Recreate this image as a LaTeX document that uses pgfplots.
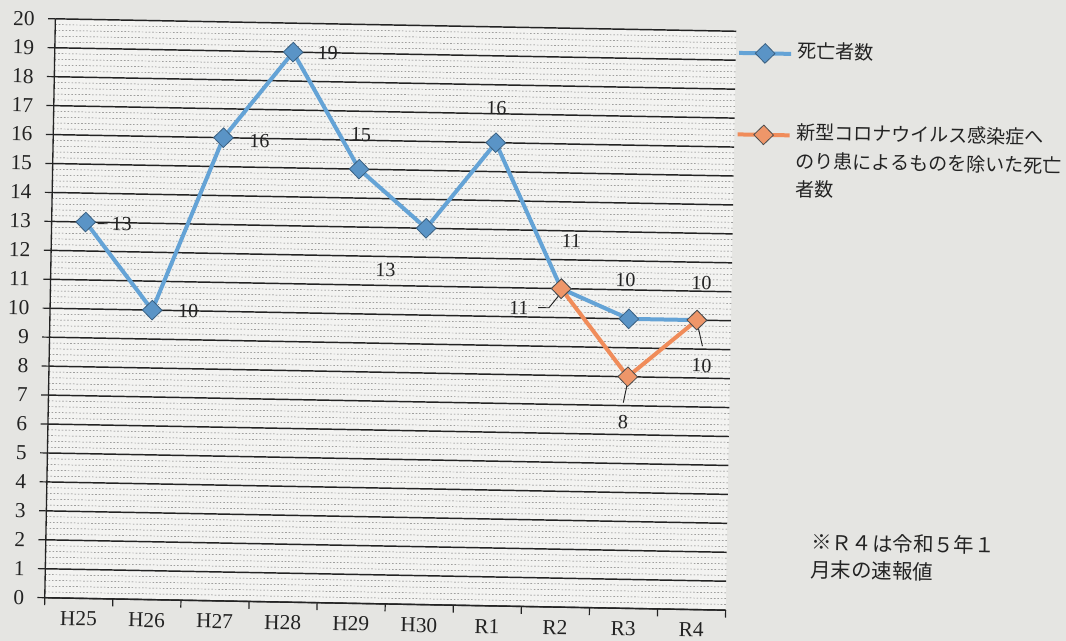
\documentclass[border=0pt]{standalone}
\usepackage{pgfplots}
\pgfplotsset{compat=1.18}
\usepackage{fontspec}
\setmainfont{Liberation Serif}
\newfontfamily\cjk{Noto Sans CJK JP}
\definecolor{paper}{RGB}{229,229,226}
\definecolor{plotbg}{RGB}{243,243,241}
\definecolor{sblue}{RGB}{100,163,214}
\definecolor{mblue}{RGB}{90,148,198}
\definecolor{sorange}{RGB}{240,140,90}
\definecolor{morange}{RGB}{238,150,105}
\definecolor{ink}{RGB}{35,35,35}
\tikzset{
  lab/.style={font=\fontsize{15}{17}\selectfont, text=ink, inner sep=0pt},
  leader/.style={ink, line width=0.7pt},
}
\begin{document}
\begin{tikzpicture}
\path[fill=paper, use as bounding box] (-37.5pt,-27.75pt) rectangle (762pt,453pt);
\begin{scope}[transform canvas={rotate around={-1.05:(255.4pt,217.1pt)}}]
\begin{axis}[name=ax, scale only axis, width=510.75pt, height=434.25pt,
  at={(0,0)}, anchor=south west,
  xmin=-0.5, xmax=9.5, ymin=0, ymax=20,
  xtick={0,...,9}, xticklabels={H25,H26,H27,H28,H29,H30,R1,R2,R3,R4},
  minor xtick={-0.5,0.5,...,9.5},
  major x tick style={draw=none},
  minor y tick style={draw=none},
  ytick={0,...,20},
  minor y tick num=4,
  tick align=outside, major tick length=5.5pt, minor tick length=5.5pt,
  tick style={ink, line width=0.9pt},
  ymajorgrids, yminorgrids,
  major grid style={ink, line width=1.1pt},
  minor grid style={black!55, line width=0.35pt, dash pattern=on 1.2pt off 1.4pt},
  axis x line*=bottom, axis y line*=left,
  axis line style={ink, line width=1pt, -},
  axis background/.style={fill=plotbg},
  ticklabel style={font=\fontsize{16}{18}\selectfont, text=ink},
  xticklabel style={yshift=-1pt},
  yticklabel style={xshift=-6.5pt},
  /pgf/number format/assume math mode=true,
  clip=false,
  legend style={at={(1,1)}, anchor=north west, xshift=0.75pt, yshift=-4.75pt,
    draw=none, fill=none, inner sep=0pt, font=\cjk\fontsize{14.3}{21.4}\selectfont, text=ink,
    cells={anchor=north west, align=left, inner sep=0.5pt}, row sep=42.5pt, column sep=1.5pt},
  legend image code/.code={\draw[mark repeat=2,mark phase=2,#1] plot coordinates {(0pt,-11.25pt)(19.5pt,-11.25pt)(39pt,-11.25pt)};},
]
\addplot[sblue, line width=3pt, mark=square*, mark size=5.2pt,
  mark options={rotate=45, fill=mblue, draw=mblue!65!black, line width=0.6pt}]
  coordinates {(0,13)(1,10)(2,16)(3,19)(4,15)(5,13)(6,16)(7,11)(8,10)(9,10)};
\addlegendentry{死亡者数}
\addplot[sorange, line width=3pt, mark=square*, mark size=5.2pt,
  mark options={rotate=45, fill=morange, draw=black!70, line width=0.6pt}]
  coordinates {(7,11)(8,8)(9,10)};
\addlegendentry{新型コロナウイルス感染症へ\\のり患によるものを除いた死亡\\者数}

% blue labels
\draw[leader] ([xshift=9pt,yshift=-1pt]axis cs:0,13) -- ([xshift=16.5pt,yshift=-1pt]axis cs:0,13);
\node[lab] at ([xshift=27pt,yshift=-1pt]axis cs:0,13) {13};
\draw[leader] ([xshift=9pt]axis cs:1,10) -- ([xshift=16.5pt]axis cs:1,10);
\node[lab] at ([xshift=27pt]axis cs:1,10) {10};
\node[lab] at ([xshift=27pt,yshift=-2pt]axis cs:2,16) {16};
\node[lab] at ([xshift=26pt]axis cs:3,19) {19};
\node[lab] at ([xshift=1pt,yshift=26pt]axis cs:4,15) {15};
\node[lab] at ([xshift=-30pt,yshift=-32pt]axis cs:5,13) {13};
\node[lab] at ([yshift=26pt]axis cs:6,16) {16};
\node[lab] at ([xshift=7pt,yshift=36pt]axis cs:7,11) {11};
\node[lab] at ([xshift=-3pt,yshift=29pt]axis cs:8,10) {10};
\node[lab] at ([xshift=3pt,yshift=28pt]axis cs:9,10) {10};
% orange labels
\draw[leader] ([xshift=-17pt,yshift=-14.5pt]axis cs:7,11) -- ([xshift=-9pt,yshift=-14.5pt]axis cs:7,11) -- ([yshift=-3pt]axis cs:7,11);
\node[lab] at ([xshift=-31.5pt,yshift=-15pt]axis cs:7,11) {11};
\draw[leader] ([yshift=-4pt]axis cs:8,8) -- ([xshift=-3pt,yshift=-19.5pt]axis cs:8,8);
\node[lab] at ([xshift=-3pt,yshift=-34pt]axis cs:8,8) {8};
\draw[leader] ([yshift=-1pt]axis cs:9,10) -- ([xshift=4.5pt,yshift=-19.5pt]axis cs:9,10);
\node[lab] at ([xshift=4pt,yshift=-34pt]axis cs:9,10) {10};
\end{axis}
\node[anchor=north west, align=left, inner sep=0pt, text=ink,
  font=\cjk\fontsize{15.3}{20.5}\selectfont]
  at ([xshift=63pt,yshift=59.5pt]ax.south east) {※Ｒ４は令和５年１\\月末の速報値};
\end{scope}
\end{tikzpicture}
\end{document}
